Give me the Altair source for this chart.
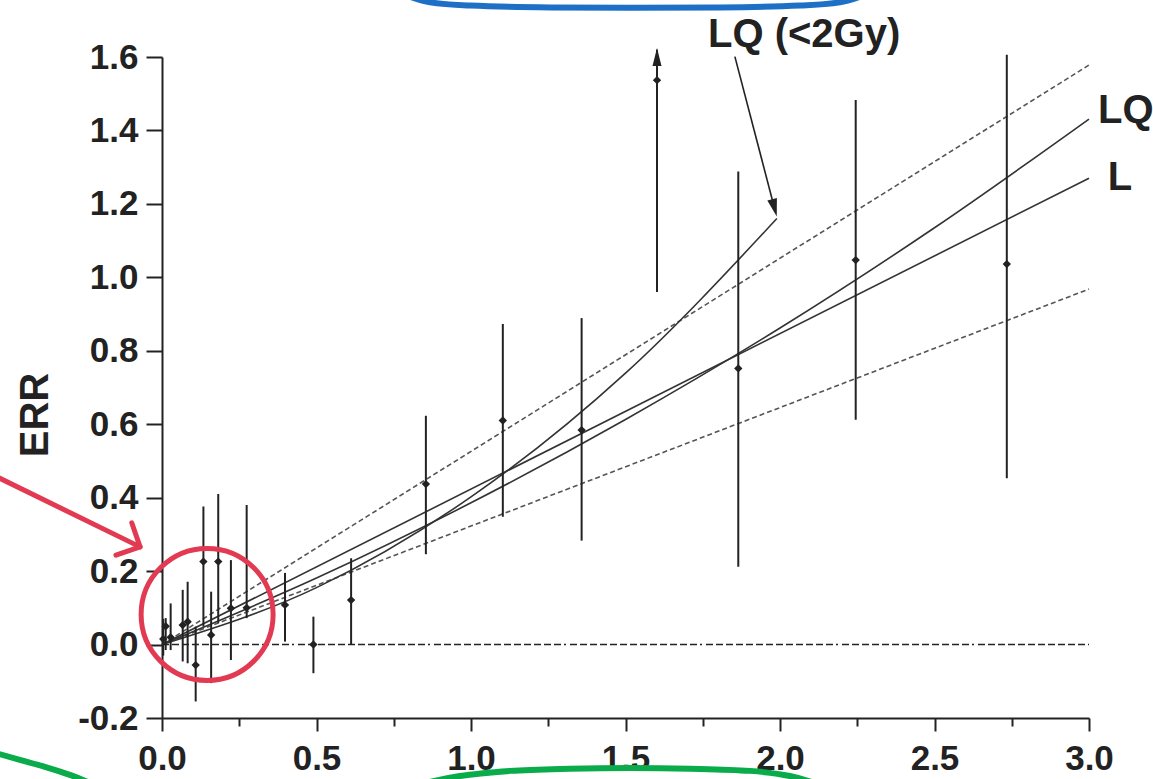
import altair as alt
import pandas as pd

# ---------------- data ----------------
dose = [0.004, 0.012, 0.028, 0.067, 0.083, 0.109, 0.134, 0.159, 0.182, 0.223, 0.274,
        0.398, 0.490, 0.612, 0.854, 1.103, 1.358, 1.602, 1.865, 2.245, 2.734]
err = [0.015, 0.050, 0.020, 0.053, 0.062, -0.056, 0.226, 0.026, 0.226, 0.099, 0.100,
       0.108, 0.000, 0.121, 0.437, 0.610, 0.584, 1.537, 0.752, 1.047, 1.036]
err_lo = [-0.030, -0.015, -0.015, -0.046, -0.051, -0.155, 0.049, -0.105, 0.059, -0.042, 0.072,
          0.008, -0.078, 0.000, 0.246, 0.348, 0.283, 0.960, 0.212, 0.612, 0.453]
err_hi = [0.070, 0.072, 0.112, 0.149, 0.171, 0.049, 0.376, 0.144, 0.410, 0.230, 0.380,
          0.195, 0.076, 0.235, 0.623, 0.873, 0.889, 1.620, 1.288, 1.483, 1.606]

# point whose upper bound runs off the top (arrow)
arrow_dose = [1.602]
arrow_err = [1.600]

# fitted dose-response curves
lin_dose = [0.0, 3.0]
fit_L = [0.0, 1.27]
ci_upper = [0.0, 1.578]
ci_lower = [0.0, 0.968]
lq_dose = [0.0, 0.5, 1.0, 1.5, 2.0, 2.5, 3.0]
fit_LQ = [0.0, 0.181, 0.386, 0.613, 0.862, 1.135, 1.431]
lq2_dose = [0.0, 0.5, 1.0, 1.5, 1.99]
fit_LQ2 = [0.0, 0.155, 0.402, 0.739, 1.16]

# reference (zero) line
zero_from = [0.0]
zero_to = [3.0]

# axis ticks
x_ticks = [0.0, 0.5, 1.0, 1.5, 2.0, 2.5, 3.0]
x_minor = [0.25, 0.75, 1.25, 1.75, 2.25, 2.75]
y_ticks = [-0.2, 0.0, 0.2, 0.4, 0.6, 0.8, 1.0, 1.2, 1.4, 1.6]

# text labels
label_text = ["LQ (<2Gy)", "LQ", "L"]
label_dose = [1.767, 3.029, 3.061]
label_err = [1.660, 1.453, 1.270]
y_title = ["ERR"]
y_title_dose = [-0.408]
y_title_err = [0.625]

# pointer from "LQ (<2Gy)" label to the end of its curve
pointer_dose = [1.854, 1.982]
pointer_err = [1.601, 1.189]

# highlight overlays (red circle, red arrow, blue/green arcs)
circle_dose = [0.146]
circle_err = [0.082]
red_arrow_dose = [-0.540, -0.071]
red_arrow_err = [0.459, 0.266]
blue_arc_dose = [0.803, 0.867, 0.997, 1.256, 1.515, 1.806, 2.065, 2.194, 2.259]
blue_arc_err = [1.764, 1.749, 1.740, 1.735, 1.734, 1.735, 1.740, 1.749, 1.764]
green_left_dose = [-0.540, -0.460, -0.379, -0.298, -0.233]
green_left_err = [-0.295, -0.314, -0.333, -0.355, -0.377]
green_mid_dose = [0.851, 0.964, 1.126, 1.320, 1.515, 1.709, 1.903, 2.032, 2.113]
green_mid_err = [-0.377, -0.358, -0.344, -0.338, -0.336, -0.338, -0.344, -0.358, -0.377]

# ---------------- styling ----------------
INK = "#222222"
FONT = "Liberation Sans"
RED = "#e23a52"
BLUE = "#1e6fc6"
GREEN = "#0aab4a"

xs = alt.Scale(domain=[0, 3])
ys = alt.Scale(domain=[-0.2, 1.6])

def X(field="dose", axis=None):
    return alt.X(f"{field}:Q", scale=xs, axis=axis)

def Y(field="err", axis=None):
    return alt.Y(f"{field}:Q", scale=ys, axis=axis)

pts = pd.DataFrame({"dose": dose, "err": err, "lo": err_lo, "hi": err_hi})

x_axis = alt.Axis(values=x_ticks, format=".1f", orient="bottom", title=None, grid=False,
                  tickSize=13, tickWidth=2, tickColor=INK, domainWidth=2, domainColor=INK,
                  labelFontSize=35, labelFont=FONT, labelFontWeight="bold", labelColor=INK,
                  labelPadding=10, labelFlush=False, labelOverlap=False)
y_axis = alt.Axis(values=y_ticks, orient="left", title=None, grid=False,
                  labelExpr="datum.value < 0 ? '-' + format(-datum.value, '.1f') : format(datum.value, '.1f')",
                  tickSize=16, tickWidth=2, tickColor=INK, domainWidth=2, domainColor=INK,
                  labelFontSize=35, labelFont=FONT, labelFontWeight="bold", labelColor=INK,
                  labelPadding=8, labelFlush=False, labelOverlap=False)
x_minor_axis = alt.Axis(values=x_minor, orient="bottom", labels=False, domain=False, grid=False,
                        title=None, tickSize=8, tickWidth=2, tickColor=INK)

# layers that carry the axes
major_axes = alt.Chart(pd.DataFrame({"dose": x_ticks, "err": [0.0] * len(x_ticks)})).mark_point(
    opacity=0).encode(x=X(axis=x_axis), y=Y(axis=y_axis))
minor_axis = alt.Chart(pd.DataFrame({"dose": x_minor, "err": [0.0] * len(x_minor)})).mark_point(
    opacity=0).encode(x=X(axis=x_minor_axis), y=Y())

bars = alt.Chart(pts).mark_rule(color=INK, strokeWidth=2).encode(
    x=X(), y=Y("lo"), y2="hi:Q")

markers = alt.Chart(pts).mark_point(shape="diamond", filled=True, color=INK, size=70, opacity=1).encode(
    x=X(), y=Y())

arrow_head = alt.Chart(pd.DataFrame({"dose": arrow_dose, "err": arrow_err})).mark_point(
    shape="M0,-1L0.5,1L-0.5,1Z", filled=True, color=INK, size=324, opacity=1).encode(x=X(), y=Y())

zero = alt.Chart(pd.DataFrame({"dose": zero_from, "dose2": zero_to, "err": [0.0]})).mark_rule(
    color=INK, strokeWidth=1.6,
    strokeDash=[7, 3] * 13 + [2, 4]).encode(x=X(), x2="dose2:Q", y=Y())

solid = pd.concat([
    pd.DataFrame({"dose": lin_dose, "err": fit_L, "curve": "L"}),
    pd.DataFrame({"dose": lq_dose, "err": fit_LQ, "curve": "LQ"}),
    pd.DataFrame({"dose": lq2_dose, "err": fit_LQ2, "curve": "LQ2"}),
])
dashed = pd.concat([
    pd.DataFrame({"dose": lin_dose, "err": ci_upper, "curve": "up"}),
    pd.DataFrame({"dose": lin_dose, "err": ci_lower, "curve": "low"}),
])
solid_lines = alt.Chart(solid).mark_line(color="#333333", strokeWidth=1.6, interpolate="monotone").encode(
    x=X(), y=Y(), detail="curve:N")
dashed_lines = alt.Chart(dashed).mark_line(color="#555555", strokeWidth=1.6, strokeDash=[5, 3]).encode(
    x=X(), y=Y(), detail="curve:N")

labels = alt.Chart(pd.DataFrame({"dose": label_dose, "err": label_err, "t": label_text})).mark_text(
    align="left", baseline="middle", font=FONT, fontSize=40, fontWeight="bold", color=INK).encode(
    x=X(), y=Y(), text="t:N")

title_mark = alt.Chart(pd.DataFrame({"dose": y_title_dose, "err": y_title_err, "t": y_title})).mark_text(
    align="center", baseline="middle", angle=270, font=FONT, fontSize=40, fontWeight="bold",
    color=INK).encode(x=X(), y=Y(), text="t:N")

pointer = alt.Chart(pd.DataFrame({"dose": pointer_dose, "err": pointer_err})).mark_line(
    color=INK, strokeWidth=1.6, clip=False).encode(x=X(), y=Y())
pointer_head = alt.Chart(pd.DataFrame({"dose": pointer_dose[-1:], "err": pointer_err[-1:]})).mark_point(
    shape="M0,-1L0.55,1L-0.55,1Z", filled=True, color=INK, size=324, angle=165, opacity=1).encode(
    x=X(), y=Y())

red_circle = alt.Chart(pd.DataFrame({"dose": circle_dose, "err": circle_err})).mark_point(
    shape="circle", filled=False, color=RED, size=17424, strokeWidth=5, opacity=1).encode(x=X(), y=Y())
red_line = alt.Chart(pd.DataFrame({"dose": red_arrow_dose, "err": red_arrow_err})).mark_line(
    color=RED, strokeWidth=5, clip=False, strokeCap="round").encode(x=X(), y=Y())
red_head = alt.Chart(pd.DataFrame({"dose": red_arrow_dose[-1:], "err": red_arrow_err[-1:]})).mark_point(
    shape="M-1,-1L0,0L-1,1", filled=False, color=RED, size=1300, strokeWidth=5, angle=26,
    opacity=1, strokeCap="round", strokeJoin="round").encode(x=X(), y=Y())

def arc(xv, yv, color):
    return alt.Chart(pd.DataFrame({"dose": xv, "err": yv})).mark_line(
        color=color, strokeWidth=6, clip=False, interpolate="monotone").encode(x=X(), y=Y())

chart = alt.layer(
    major_axes, minor_axis,
    zero, dashed_lines, solid_lines, bars, markers, arrow_head,
    labels, title_mark, pointer, pointer_head,
    red_circle, red_line, red_head,
    arc(blue_arc_dose, blue_arc_err, BLUE),
    arc(green_left_dose, green_left_err, GREEN),
    arc(green_mid_dose, green_mid_err, GREEN),
).resolve_axis(x="independent", y="independent").properties(
    width=927, height=661,
    padding={"left": 162, "top": 57, "right": 64, "bottom": 61},
    autosize=alt.AutoSizeParams(type="none"),
    background="white",
).configure_view(stroke=None)

chart.save("out.html", embed_options={"renderer": "svg", "actions": False})
